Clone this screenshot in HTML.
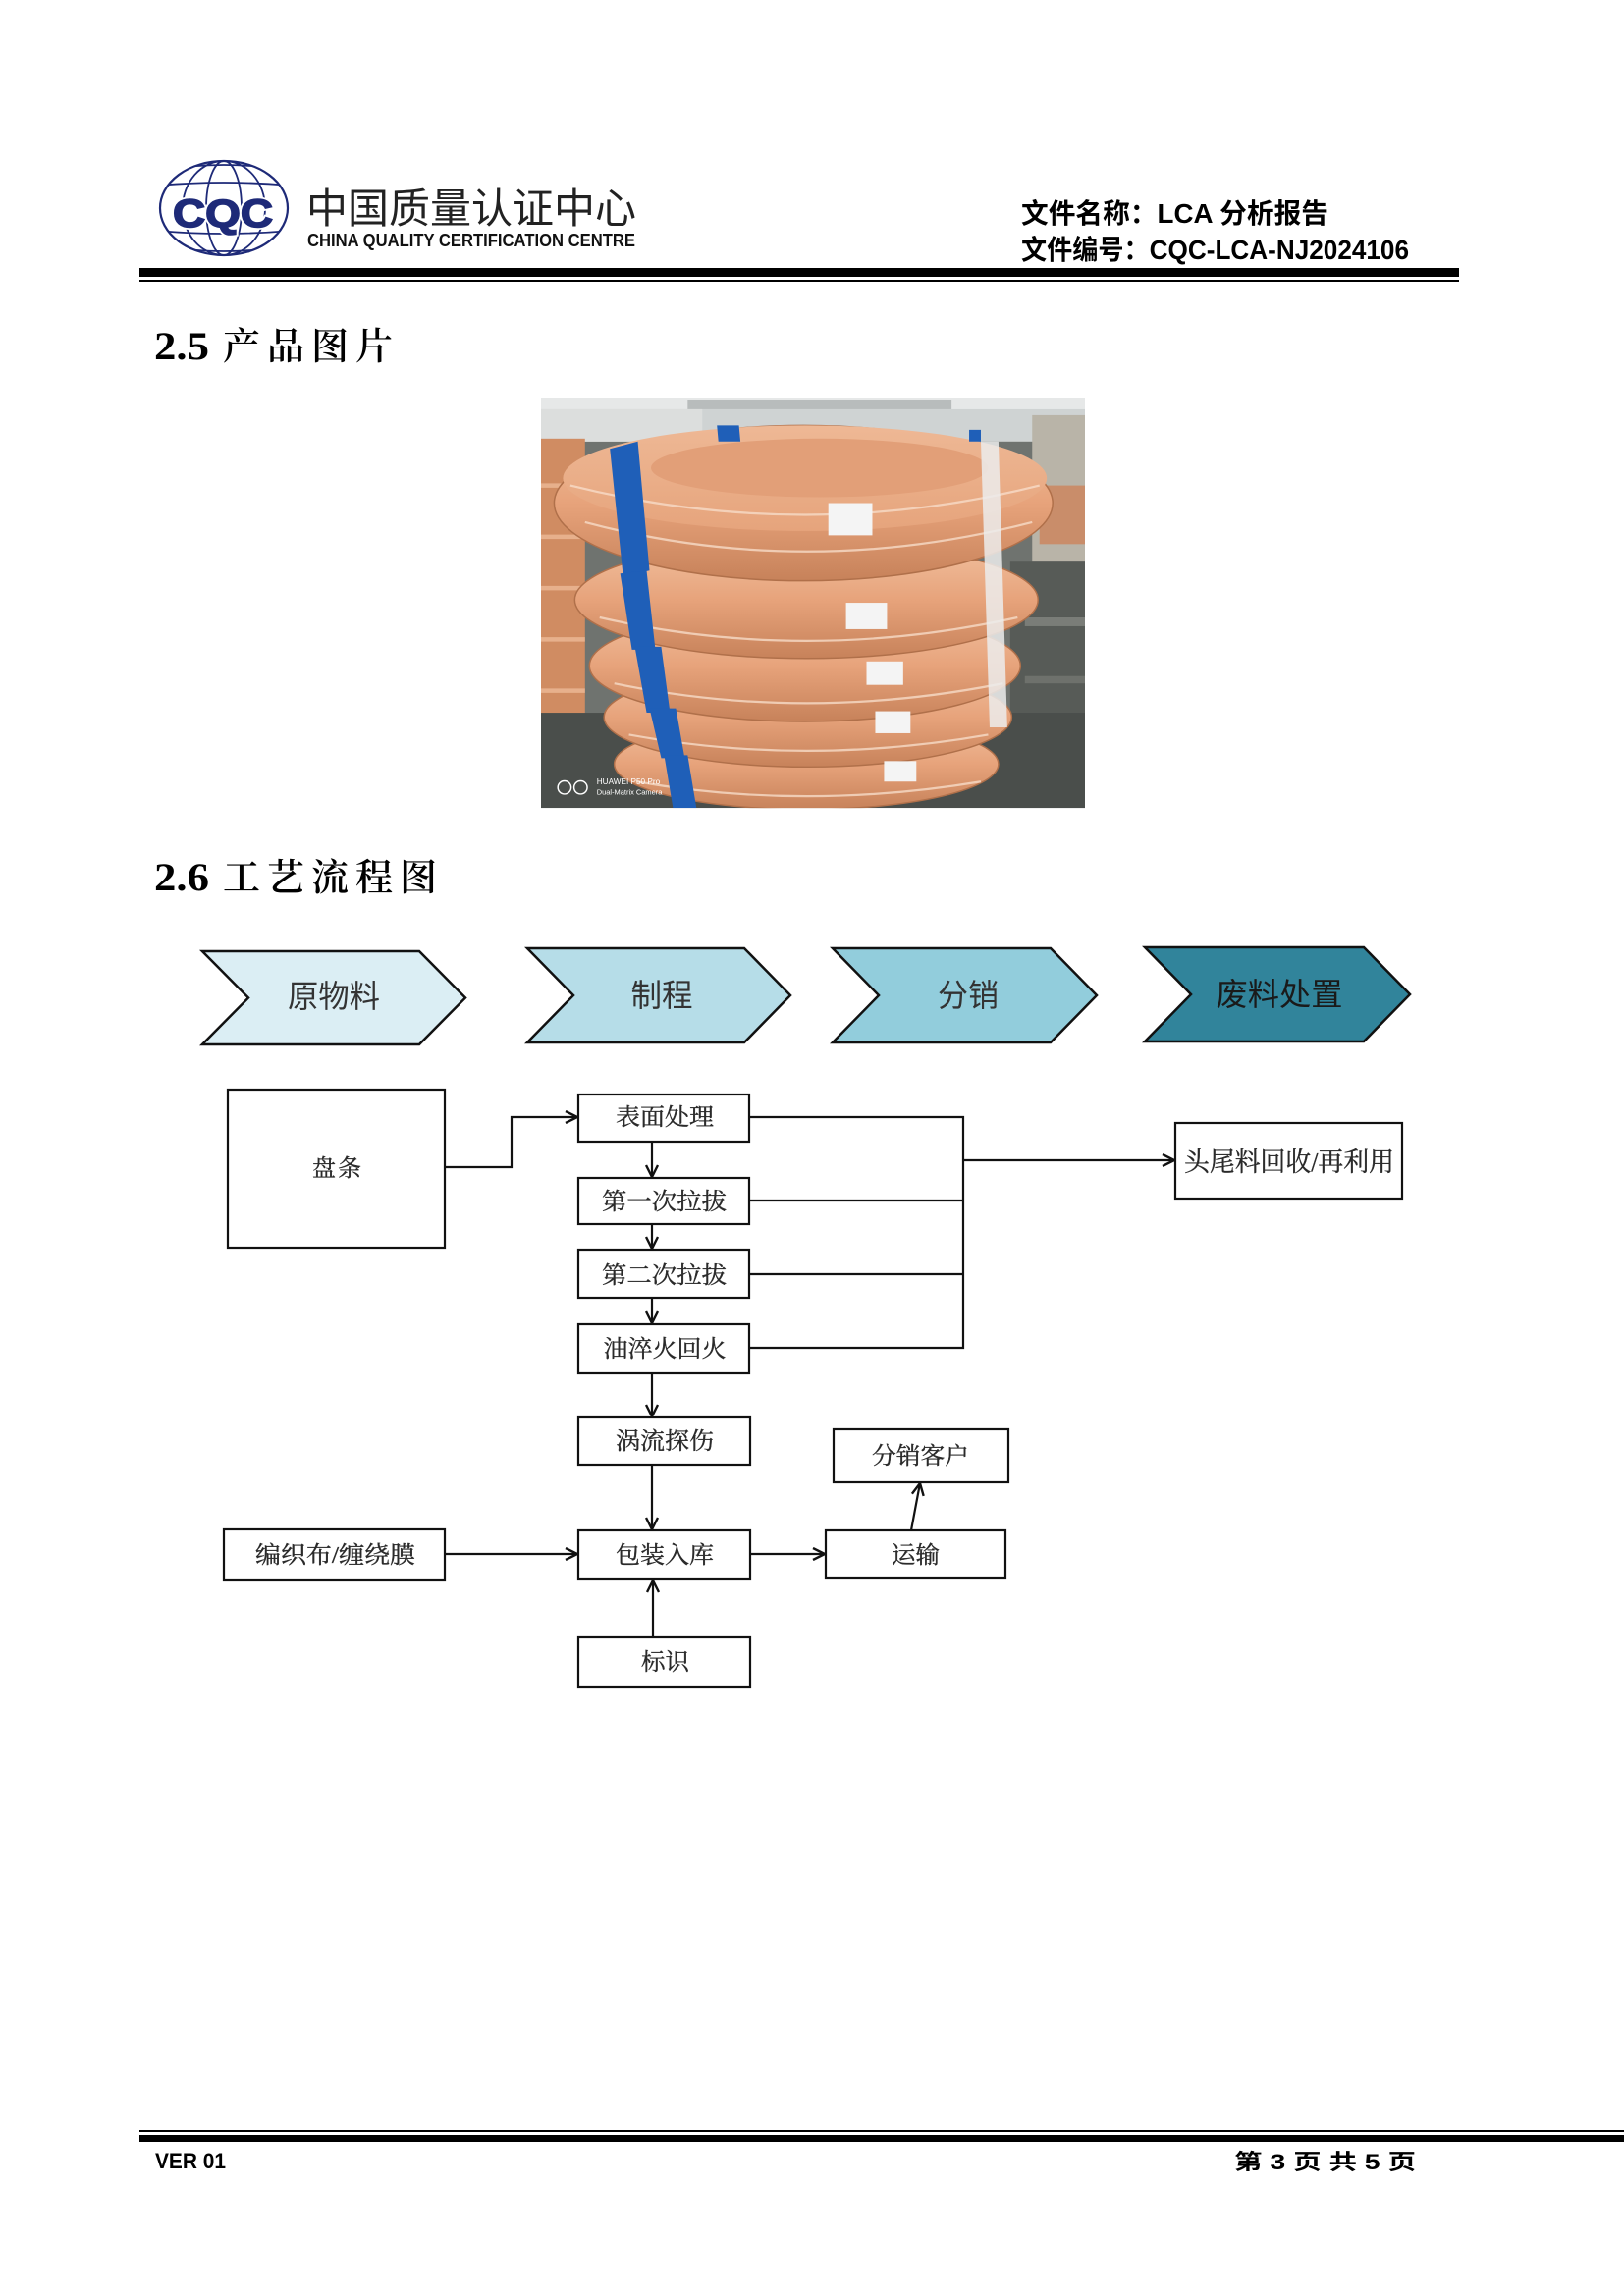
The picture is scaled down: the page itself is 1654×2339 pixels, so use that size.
<!DOCTYPE html>
<html>
<head>
<meta charset="utf-8">
<style>
  html,body{margin:0;padding:0;background:#fff;}
  body{width:1654px;height:2339px;position:relative;overflow:hidden;}
  svg{position:absolute;left:0;top:0;}
  .sans{font-family:"Liberation Sans","Noto Sans CJK SC",sans-serif;}
  .serif{font-family:"Liberation Serif","Noto Serif CJK SC",serif;}
  .box{font-family:"Liberation Serif","Noto Serif CJK SC",serif;font-size:24px;fill:#2a2a2a;stroke:#2a2a2a;stroke-width:0.35;}
  .chev{font-family:"Liberation Sans","Noto Sans CJK SC",sans-serif;font-size:32px;fill:#333;}
</style>
</head>
<body>
<svg width="1654" height="2339" viewBox="0 0 1654 2339" xmlns="http://www.w3.org/2000/svg">
  <defs>
    <marker id="ar" viewBox="0 0 14 14" refX="13" refY="7" markerWidth="14" markerHeight="14" orient="auto" markerUnits="userSpaceOnUse">
      <path d="M1,1 L13,7 L1,13" fill="none" stroke="#111" stroke-width="2.4"/>
    </marker>
    <clipPath id="globe"><ellipse cx="228" cy="212" rx="65" ry="48"/></clipPath>
    <clipPath id="photo"><rect x="0" y="0" width="371" height="280"/></clipPath>
    <linearGradient id="coil" x1="0" y1="0" x2="0" y2="1">
      <stop offset="0" stop-color="#f1c1a0"/>
      <stop offset="0.5" stop-color="#e7a37b"/>
      <stop offset="1" stop-color="#c7825a"/>
    </linearGradient>
    <linearGradient id="topface" x1="0" y1="0" x2="0" y2="1">
      <stop offset="0" stop-color="#eeb895"/>
      <stop offset="1" stop-color="#e6a47c"/>
    </linearGradient>
  </defs>

  <!-- ===== HEADER ===== -->
  <g fill="none" stroke="#1e2a78" stroke-width="1.8">
    <g clip-path="url(#globe)">
      <ellipse cx="228" cy="212" rx="42" ry="48"/>
      <ellipse cx="228" cy="212" rx="18" ry="48"/>
      <path d="M150,176 Q228,160 306,176"/>
      <path d="M150,190 Q228,182 306,190"/>
      <path d="M150,234 Q228,242 306,234"/>
      <path d="M150,248 Q228,264 306,248"/>
    </g>
    <ellipse cx="228" cy="212" rx="65" ry="48" stroke-width="2.2"/>
  </g>
  <text x="176" y="231" textLength="102" lengthAdjust="spacingAndGlyphs" class="sans" font-size="40" font-weight="bold" fill="#1e2a78" stroke="#fff" stroke-width="5" paint-order="stroke">CQC</text>
  <text x="176" y="231" textLength="102" lengthAdjust="spacingAndGlyphs" class="sans" font-size="40" font-weight="bold" fill="#1e2a78" stroke="#1e2a78" stroke-width="1.6">CQC</text>

  <text x="312" y="227" textLength="336" lengthAdjust="spacingAndGlyphs" class="sans" font-size="42" fill="#222">中国质量认证中心</text>
  <text x="313" y="251" textLength="334" lengthAdjust="spacingAndGlyphs" class="sans" font-size="18" font-weight="bold" fill="#111">CHINA QUALITY CERTIFICATION CENTRE</text>

  <text x="1040" y="227" textLength="313" lengthAdjust="spacingAndGlyphs" class="sans" font-size="28" font-weight="bold" fill="#000">文件名称：LCA 分析报告</text>
  <text x="1040" y="264" textLength="395" lengthAdjust="spacingAndGlyphs" class="sans" font-size="28" font-weight="bold" fill="#000">文件编号：CQC-LCA-NJ2024106</text>

  <rect x="142" y="273" width="1344" height="9" fill="#000"/>
  <rect x="142" y="285" width="1344" height="2" fill="#000"/>

  <!-- ===== 2.5 ===== -->
  <text x="157" y="366" textLength="56" lengthAdjust="spacingAndGlyphs" font-family="'Liberation Serif',serif" font-size="40" font-weight="bold" fill="#000">2.5</text>
  <text x="227" y="366" textLength="173" lengthAdjust="spacing" class="serif" font-size="38" font-weight="600" fill="#000">产品图片</text>

  <!-- photo -->
  <g transform="translate(551,405) scale(1.4933)">
    <g clip-path="url(#photo)">
      <rect width="371" height="280" fill="#6f736f"/>
      <rect width="371" height="30" fill="#cfd3d3"/>
      <rect width="371" height="8" fill="#e6e8e8"/>
      <rect x="100" y="2" width="180" height="6" fill="#b8bcbc"/>
      <rect x="0" y="8" width="110" height="22" fill="#dcdedd"/>
      <rect x="0" y="28" width="30" height="190" fill="#d08c62"/>
      <path d="M0,60 H30 M0,95 H30 M0,130 H30 M0,165 H30 M0,200 H30" stroke="#e7b08c" stroke-width="3"/>
      <rect x="335" y="12" width="36" height="100" fill="#b9b4a8"/>
      <rect x="340" y="60" width="31" height="40" fill="#c98d6a"/>
      <rect x="320" y="112" width="51" height="168" fill="#575b57"/>
      <rect x="0" y="215" width="371" height="65" fill="#4a4e4b"/>
      <rect x="330" y="150" width="41" height="6" fill="#7a7d78"/>
      <rect x="330" y="190" width="41" height="5" fill="#6e716c"/>

      <ellipse cx="181" cy="250" rx="131" ry="31" fill="url(#coil)" stroke="#b0704a" stroke-width="1"/>
      <ellipse cx="182" cy="218" rx="139" ry="34" fill="url(#coil)" stroke="#b0704a" stroke-width="1"/>
      <ellipse cx="180" cy="183" rx="147" ry="38" fill="url(#coil)" stroke="#b0704a" stroke-width="1"/>
      <ellipse cx="181" cy="138" rx="158" ry="40" fill="url(#coil)" stroke="#b0704a" stroke-width="1"/>
      <ellipse cx="179" cy="72" rx="170" ry="53" fill="url(#coil)" stroke="#b0704a" stroke-width="1"/>
      <ellipse cx="180" cy="55" rx="165" ry="36" fill="url(#topface)"/>
      <ellipse cx="190" cy="48" rx="115" ry="20" fill="#e29f78"/>
      <g fill="none" stroke="#f7dcc8" stroke-width="1.5" opacity="0.8">
        <path d="M20,60 Q180,100 340,60"/>
        <path d="M30,85 Q180,125 335,85"/>
        <path d="M40,150 Q180,182 325,150"/>
        <path d="M50,195 Q180,222 315,195"/>
        <path d="M60,230 Q180,252 305,230"/>
        <path d="M65,262 Q180,282 300,262"/>
      </g>

      <g fill="#1f5fb8">
        <polygon points="47,35 66,30 74,118 56,122"/>
        <polygon points="54,120 72,118 78,172 62,172"/>
        <polygon points="64,170 82,170 88,215 72,215"/>
        <polygon points="74,212 92,212 98,246 82,246"/>
        <polygon points="84,244 100,244 106,280 90,280"/>
        <polygon points="120,19 135,19 136,30 121,30"/>
        <polygon points="292,22 300,22 300,30 292,30"/>
      </g>
      <polygon points="300,30 312,30 318,225 306,225" fill="#ececec" opacity="0.85"/>
      <g fill="#f4f4f4">
        <rect x="196" y="72" width="30" height="22"/>
        <rect x="208" y="140" width="28" height="18"/>
        <rect x="222" y="180" width="25" height="16"/>
        <rect x="228" y="214" width="24" height="15"/>
        <rect x="234" y="248" width="22" height="14"/>
      </g>
      <circle cx="16" cy="266" r="4.5" fill="none" stroke="#fff" stroke-width="1"/>
      <circle cx="27" cy="266" r="4.5" fill="none" stroke="#fff" stroke-width="1"/>
      <text x="38" y="264" font-family="'Liberation Sans',sans-serif" font-size="5.5" fill="#fff">HUAWEI P50 Pro</text>
      <text x="38" y="271" font-family="'Liberation Sans',sans-serif" font-size="5" fill="#fff">Dual-Matrix Camera</text>
    </g>
  </g>

  <!-- ===== 2.6 ===== -->
  <text x="157" y="907" textLength="56" lengthAdjust="spacingAndGlyphs" font-family="'Liberation Serif',serif" font-size="40" font-weight="bold" fill="#000">2.6</text>
  <text x="227" y="907" textLength="218" lengthAdjust="spacing" class="serif" font-size="38" font-weight="600" fill="#000">工艺流程图</text>

  <!-- chevrons -->
  <g stroke="#111" stroke-width="2.5" stroke-linejoin="miter">
    <polygon points="206,969 427,969 474,1016.5 427,1064 206,1064 253,1016.5" fill="#dbeef4"/>
    <polygon points="537,966 758,966 805,1014 758,1062 537,1062 584,1014" fill="#b6dde8"/>
    <polygon points="848,966 1070,966 1117,1014 1070,1062 848,1062 895,1014" fill="#92cddc"/>
    <polygon points="1166,965 1389,965 1436,1013 1389,1061 1166,1061 1213,1013" fill="#31849b"/>
  </g>
  <text x="340" y="1026" text-anchor="middle" textLength="94" lengthAdjust="spacingAndGlyphs" class="chev">原物料</text>
  <text x="674" y="1025" text-anchor="middle" textLength="63" lengthAdjust="spacingAndGlyphs" class="chev">制程</text>
  <text x="986" y="1025" text-anchor="middle" textLength="62" lengthAdjust="spacingAndGlyphs" class="chev">分销</text>
  <text x="1303" y="1024" text-anchor="middle" textLength="129" lengthAdjust="spacingAndGlyphs" class="chev" style="fill:#1a1a1a">废料处置</text>

  <!-- flow boxes -->
  <g fill="#fff" stroke="#111" stroke-width="2.2">
    <rect x="232" y="1110" width="221" height="161"/>
    <rect x="589" y="1115" width="174" height="48"/>
    <rect x="589" y="1200" width="174" height="47"/>
    <rect x="589" y="1273" width="174" height="49"/>
    <rect x="589" y="1349" width="174" height="50"/>
    <rect x="589" y="1444" width="175" height="48"/>
    <rect x="589" y="1559" width="175" height="50"/>
    <rect x="589" y="1668" width="175" height="51"/>
    <rect x="228" y="1558" width="225" height="52"/>
    <rect x="841" y="1559" width="183" height="49"/>
    <rect x="849" y="1456" width="178" height="54"/>
    <rect x="1197" y="1144" width="231" height="77"/>
  </g>

  <!-- connectors -->
  <g fill="none" stroke="#111" stroke-width="2.2">
    <polyline points="453,1189 521,1189 521,1138 588,1138" marker-end="url(#ar)"/>
    <line x1="664" y1="1163" x2="664" y2="1199" marker-end="url(#ar)"/>
    <line x1="664" y1="1247" x2="664" y2="1272" marker-end="url(#ar)"/>
    <line x1="664" y1="1322" x2="664" y2="1348" marker-end="url(#ar)"/>
    <line x1="664" y1="1399" x2="664" y2="1443" marker-end="url(#ar)"/>
    <line x1="664" y1="1492" x2="664" y2="1558" marker-end="url(#ar)"/>
    <line x1="665" y1="1668" x2="665" y2="1610" marker-end="url(#ar)"/>
    <polyline points="763,1138 981,1138 981,1373 763,1373"/>
    <line x1="763" y1="1223" x2="981" y2="1223"/>
    <line x1="763" y1="1298" x2="981" y2="1298"/>
    <line x1="981" y1="1182" x2="1196" y2="1182" marker-end="url(#ar)"/>
    <line x1="453" y1="1583" x2="588" y2="1583" marker-end="url(#ar)"/>
    <line x1="764" y1="1583" x2="840" y2="1583" marker-end="url(#ar)"/>
    <line x1="928" y1="1559" x2="937" y2="1511" marker-end="url(#ar)"/>
  </g>

  <!-- box labels -->
  <text x="343" y="1198" text-anchor="middle" textLength="50" lengthAdjust="spacing" class="box">盘条</text>
  <text x="677" y="1146" text-anchor="middle" textLength="100" lengthAdjust="spacingAndGlyphs" class="box">表面处理</text>
  <text x="676.5" y="1232" text-anchor="middle" textLength="127" lengthAdjust="spacingAndGlyphs" class="box">第一次拉拔</text>
  <text x="676.5" y="1307" text-anchor="middle" textLength="127" lengthAdjust="spacingAndGlyphs" class="box">第二次拉拔</text>
  <text x="677" y="1382" text-anchor="middle" textLength="125" lengthAdjust="spacingAndGlyphs" class="box">油淬火回火</text>
  <text x="677" y="1476" text-anchor="middle" textLength="100" lengthAdjust="spacingAndGlyphs" class="box">涡流探伤</text>
  <text x="677" y="1592" text-anchor="middle" textLength="100" lengthAdjust="spacingAndGlyphs" class="box">包装入库</text>
  <text x="677.5" y="1701" text-anchor="middle" textLength="49" lengthAdjust="spacingAndGlyphs" class="box">标识</text>
  <text x="341.5" y="1592" text-anchor="middle" textLength="163" lengthAdjust="spacingAndGlyphs" class="box">编织布/缠绕膜</text>
  <text x="932.5" y="1592" text-anchor="middle" textLength="49" lengthAdjust="spacingAndGlyphs" class="box">运输</text>
  <text x="937.5" y="1491" text-anchor="middle" textLength="99" lengthAdjust="spacingAndGlyphs" class="box">分销客户</text>
  <text x="1313" y="1193" text-anchor="middle" textLength="214" lengthAdjust="spacingAndGlyphs" class="box" style="font-size:27px">头尾料回收/再利用</text>

  <!-- ===== FOOTER ===== -->
  <rect x="142" y="2170" width="1512" height="2" fill="#000"/>
  <rect x="142" y="2175" width="1512" height="7" fill="#000"/>
  <text x="158" y="2209" textLength="72" lengthAdjust="spacingAndGlyphs" class="sans" font-size="22" font-weight="bold" fill="#000">VER 01</text>
  <text x="1257" y="2210" textLength="185" lengthAdjust="spacingAndGlyphs" class="sans" font-size="22" font-weight="bold" fill="#000">第 3 页 共 5 页</text>
</svg>
</body>
</html>
